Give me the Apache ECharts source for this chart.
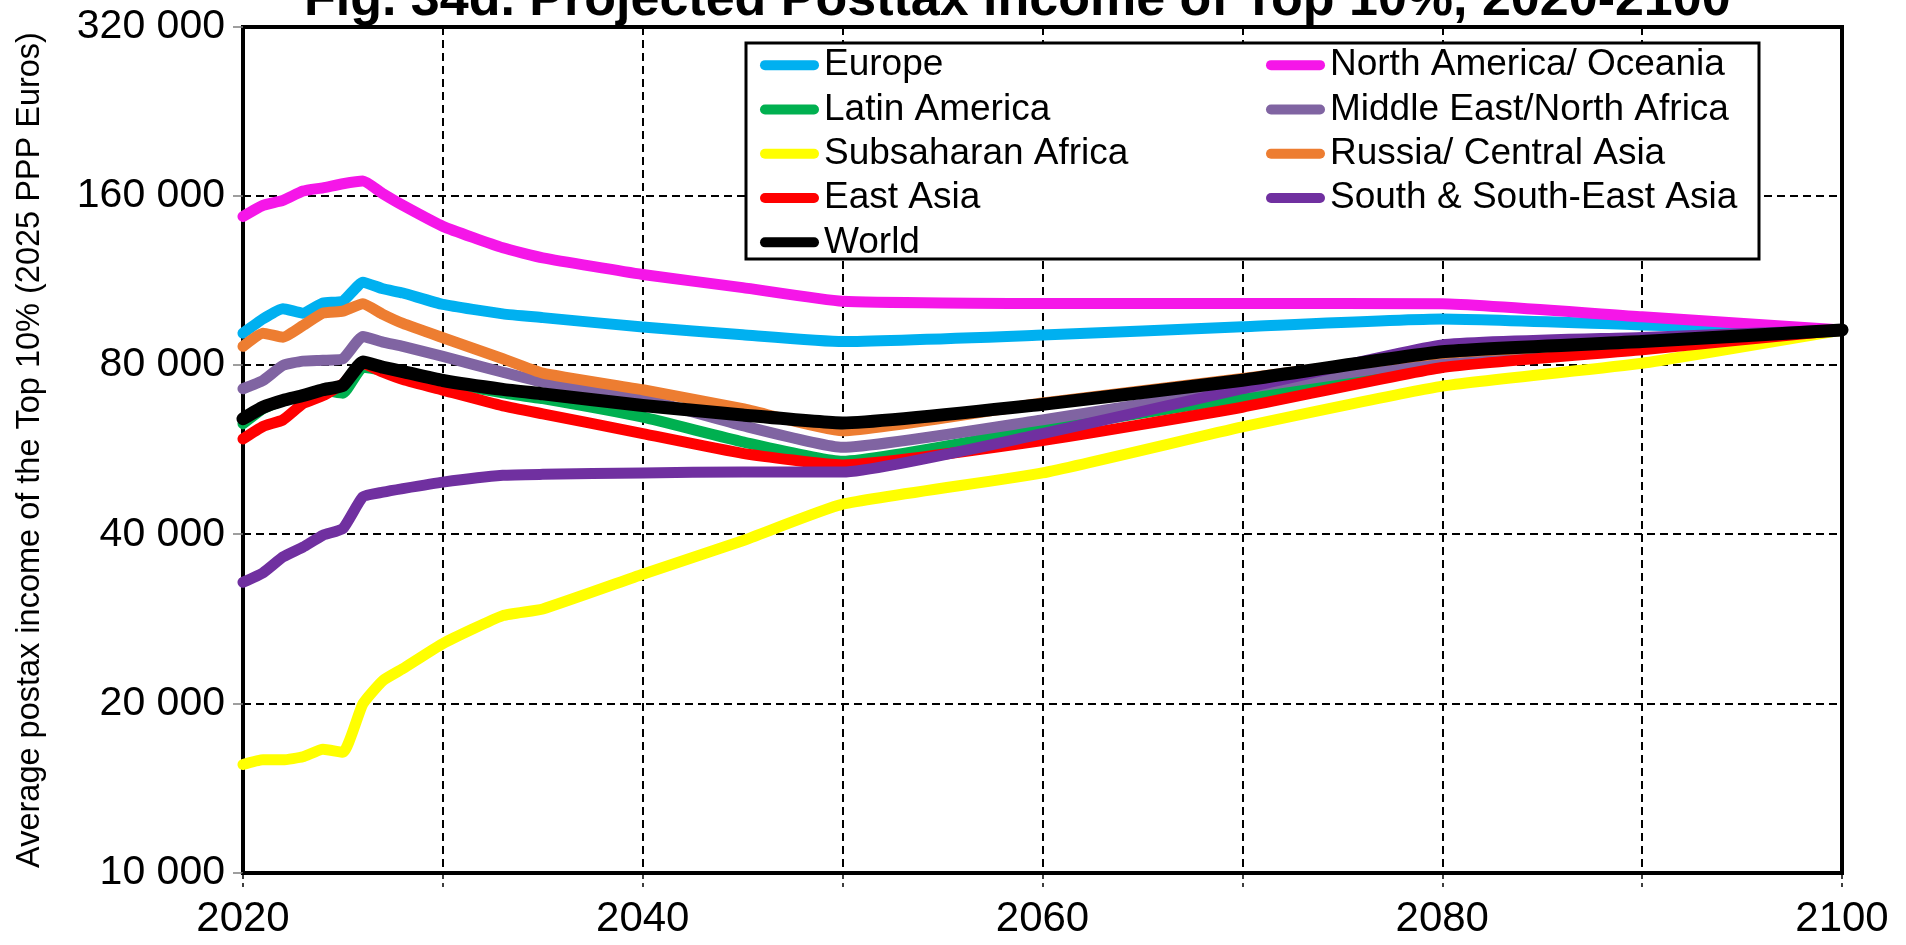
<!DOCTYPE html>
<html>
<head>
<meta charset="utf-8">
<script src="https://cdn.jsdelivr.net/npm/echarts@6/dist/echarts.min.js"></script>
<style>
  html, body { margin: 0; padding: 0; background: #fff; }
  #chart { width: 1906px; height: 945px; }
</style>
</head>
<body>
<div id="chart"></div>
<script>
// ---- data ----
const years = [2020, 2021, 2022, 2023, 2024, 2025, 2026, 2027, 2028, 2030, 2033, 2035, 2040, 2045, 2050, 2060, 2070, 2080, 2090, 2100];

const europe        = [91300, 96800, 100900, 99100, 103300, 104100, 112500, 109500, 107600, 102700, 98800, 97300, 93600, 90700, 88200, 90600, 93700, 96700, 94400, 92500];
const northAmerica  = [147300, 154100, 157300, 163400, 165600, 168400, 170200, 161600, 154100, 141400, 129500, 124300, 116100, 110000, 104000, 103100, 103100, 103000, 97600, 92500];
const latinAmerica  = [63000, 67000, 69300, 70700, 72300, 71400, 79400, 78400, 77000, 74700, 71500, 69800, 64700, 58500, 54000, 61700, 70200, 80700, 86200, 92500];
const mena          = [72700, 75200, 80000, 81400, 81700, 82200, 90100, 88000, 86500, 83000, 77800, 74700, 69800, 62500, 57200, 64000, 72800, 81800, 87000, 92500];
const subsaharan    = [15600, 15900, 15900, 16100, 16600, 16400, 20000, 22000, 23100, 25600, 28700, 29500, 34000, 39000, 45300, 51500, 62200, 73500, 80700, 92500];
const russia        = [86500, 91300, 89800, 94200, 99100, 99900, 103000, 98600, 95000, 89600, 82200, 77500, 72400, 67000, 61200, 68600, 75800, 84000, 88000, 92500];
const eastAsia      = [59200, 62300, 64000, 68400, 70700, 74200, 80600, 77800, 75500, 72300, 67800, 65600, 60500, 55800, 53200, 58800, 67400, 79300, 85300, 92500];
const southAsia     = [32900, 34200, 36500, 38000, 39900, 41000, 46700, 47600, 48300, 49600, 51000, 51200, 51500, 51700, 51700, 60500, 72700, 87000, 89700, 92500];
const world         = [64300, 67400, 69300, 70700, 72400, 73700, 81100, 79400, 78000, 75200, 72500, 71200, 67900, 65300, 63200, 68200, 75300, 84600, 88200, 92500];

const yTickValues = [10000, 20000, 40000, 80000, 160000, 320000];
const xLabelYears = [2020, 2040, 2060, 2080, 2100];

const titleText = 'Fig. 34d. Projected Posttax income of Top 10%, 2020-2100';
const yAxisTitle = 'Average postax income of the Top 10% (2025 PPP Euros)';

const seriesDefs = [
  { name: 'Europe', data: europe, color: '#00B0F0' },
  { name: 'North America/ Oceania', data: northAmerica, color: '#F516E8' },
  { name: 'Latin America', data: latinAmerica, color: '#00B050' },
  { name: 'Middle East/North Africa', data: mena, color: '#8064A2' },
  { name: 'Subsaharan Africa', data: subsaharan, color: '#FFFF00' },
  { name: 'Russia/ Central Asia', data: russia, color: '#ED7D31' },
  { name: 'East Asia', data: eastAsia, color: '#FF0000' },
  { name: 'South & South-East Asia', data: southAsia, color: '#7030A0' },
  { name: 'World', data: world, color: '#000000' }
];

const legendLeft = ['Europe', 'Latin America', 'Subsaharan Africa', 'East Asia', 'World'];
const legendRight = ['North America/ Oceania', 'Middle East/North Africa', 'Russia/ Central Asia', 'South & South-East Asia'];

// ---- chart ----
const FONT = "'Liberation Sans', Arial, sans-serif";
function fmtThousands(v) {
  // snap to the nearest listed tick value (log ticks carry tiny rounding errors)
  let best = yTickValues[0], bestD = Infinity;
  yTickValues.forEach(t => {
    const d = Math.abs(Math.log(v / t));
    if (d < bestD) { bestD = d; best = t; }
  });
  return String(best).replace(/\B(?=(\d{3})+(?!\d))/g, ' ');
}
const pillIcon = 'path://M5,0 H54 A5,5 0 0 1 54,10 H5 A5,5 0 0 1 5,0 Z';

const legendCommon = {
  orient: 'vertical',
  top: 43,
  padding: 0,
  itemGap: 0,
  itemWidth: 59,
  itemHeight: 11,
  icon: pillIcon,
  selectedMode: false,
  z: 20,
  textStyle: { fontFamily: FONT, fontSize: 37, color: '#000', lineHeight: 44.3 }
};

const chart = echarts.init(document.getElementById('chart'), null, { renderer: 'canvas' });
chart.setOption({
  animation: false,
  backgroundColor: '#fff',
  title: {
    text: titleText,
    left: 304,
    top: -25,
    padding: 0,
    textStyle: { fontFamily: FONT, fontSize: 52, fontWeight: 'bold', color: '#000' }
  },
  legend: [
    Object.assign({}, legendCommon, { left: 760, data: legendLeft }),
    Object.assign({}, legendCommon, { left: 1266, data: legendRight })
  ],
  graphic: [{
    type: 'rect',
    z: 15,
    shape: { x: 746, y: 43, width: 1013, height: 216 },
    style: { fill: '#fff', stroke: '#000', lineWidth: 3 }
  }],
  grid: {
    left: 243, right: 64, top: 27, bottom: 72,
    show: true, borderColor: '#000', borderWidth: 4, backgroundColor: 'transparent'
  },
  xAxis: {
    type: 'value',
    min: 2020, max: 2100, interval: 10,
    axisLine: { show: true, lineStyle: { color: '#000', width: 4 } },
    axisTick: { show: true, length: 14, lineStyle: { color: '#000', width: 1.5, type: [6, 4] } },
    splitLine: { show: true, lineStyle: { color: '#000', width: 2, type: [8, 5] } },
    axisLabel: {
      margin: 25, fontFamily: FONT, fontSize: 42, color: '#000',
      formatter: v => (xLabelYears.indexOf(Math.round(v)) >= 0 ? String(Math.round(v)) : '')
    }
  },
  yAxis: {
    type: 'log', logBase: 2,
    min: yTickValues[0], max: yTickValues[yTickValues.length - 1],
    interval: 1,
    name: yAxisTitle,
    nameLocation: 'middle',
    nameRotate: 90,
    nameGap: 196,
    nameTextStyle: { fontFamily: FONT, fontSize: 32.5, color: '#000' },
    axisLine: { show: true, lineStyle: { color: '#000', width: 4 } },
    axisTick: { show: true, length: 10, lineStyle: { color: '#7f7f7f', width: 1.5 } },
    splitLine: { show: true, lineStyle: { color: '#000', width: 2.2, type: [8, 5] } },
    axisLabel: { margin: 18, fontFamily: FONT, fontSize: 41, color: '#000', formatter: v => fmtThousands(v) }
  },
  series: seriesDefs.map(s => ({
    name: s.name,
    type: 'line',
    data: years.map((y, i) => [y, s.data[i]]),
    showSymbol: false,
    symbol: 'none',
    smooth: 0.15,
    color: s.color,
    lineStyle: { color: s.color, width: s.name === 'World' ? 13 : 11, cap: 'round', join: 'round' },
    z: 3
  }))
});
</script>
</body>
</html>
